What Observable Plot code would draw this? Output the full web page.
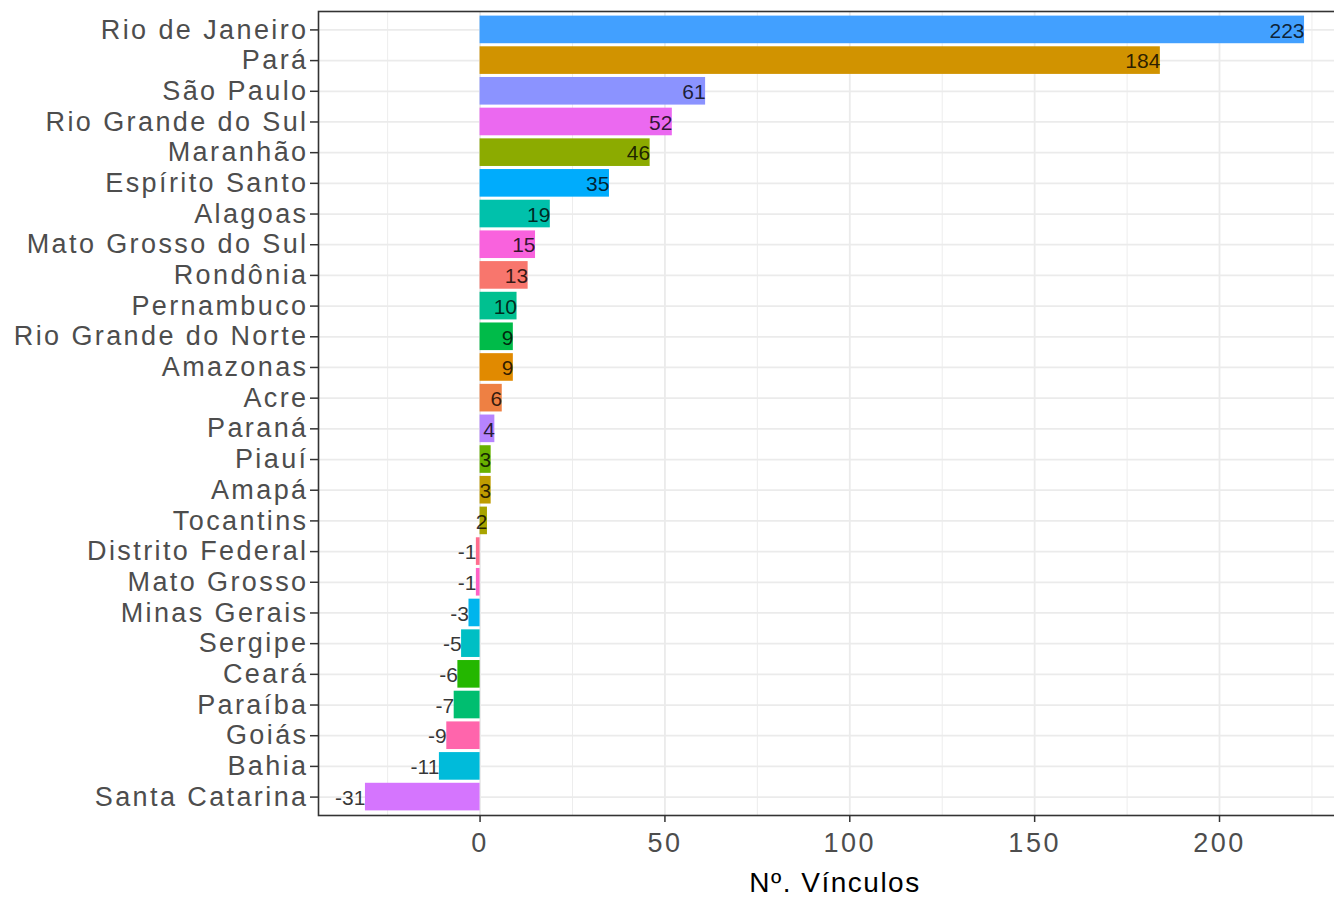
<!DOCTYPE html>
<html>
<head>
<meta charset="utf-8">
<script src="https://cdn.jsdelivr.net/npm/d3@7"></script>
<script src="https://cdn.jsdelivr.net/npm/@observablehq/plot@0.6"></script>
<style>
  html, body { margin: 0; padding: 0; background: #fff; overflow: hidden; }
  #chart { width: 1334px; height: 900px; overflow: hidden; }
  #chart svg { display: block; overflow: hidden; }
</style>
</head>
<body>
<div id="chart"></div>
<script>
// Categories (top to bottom, as drawn)
const states = ["Rio de Janeiro", "Pará", "São Paulo", "Rio Grande do Sul", "Maranhão", "Espírito Santo", "Alagoas", "Mato Grosso do Sul", "Rondônia", "Pernambuco", "Rio Grande do Norte", "Amazonas", "Acre", "Paraná", "Piauí", "Amapá", "Tocantins", "Distrito Federal", "Mato Grosso", "Minas Gerais", "Sergipe", "Ceará", "Paraíba", "Goiás", "Bahia", "Santa Catarina"];
// Series values
const values = [223, 184, 61, 52, 46, 35, 19, 15, 13, 10, 9, 9, 6, 4, 3, 3, 2, -1, -1, -3, -5, -6, -7, -9, -11, -31];
// Fill level order (IBGE order, used by the hue palette)
const fillOrder = ["Rondônia", "Acre", "Amazonas", "Pará", "Amapá", "Tocantins", "Maranhão", "Piauí", "Ceará", "Rio Grande do Norte", "Paraíba", "Pernambuco", "Alagoas", "Sergipe", "Bahia", "Minas Gerais", "Espírito Santo", "Rio de Janeiro", "São Paulo", "Paraná", "Santa Catarina", "Rio Grande do Sul", "Mato Grosso do Sul", "Mato Grosso", "Goiás", "Distrito Federal"];
// Tick labels
const xTicks = [0, 50, 100, 150, 200];
const xMinorTicks = [-25, 25, 75, 125, 175, 225];
const xLabel = "Nº. Vínculos";

// Polar LUV (R hcl) -> sRGB hex, like ggplot's hue palette
function hclLuv(h, c, l) {
  const Xn = 95.047, Yn = 100.0, Zn = 108.883;
  const un = 4 * Xn / (Xn + 15 * Yn + 3 * Zn), vn = 9 * Yn / (Xn + 15 * Yn + 3 * Zn);
  const hr = h * Math.PI / 180;
  const U = c * Math.cos(hr), V = c * Math.sin(hr);
  const Y = l > 8 ? Yn * Math.pow((l + 16) / 116, 3) : Yn * l / 903.3;
  const up = U / (13 * l) + un, vp = V / (13 * l) + vn;
  const X = 9 * Y * up / (4 * vp);
  const Z = -X / 3 - 5 * Y + 3 * Y / vp;
  const x = X / 100, y = Y / 100, z = Z / 100;
  const lin = [
    3.240479 * x - 1.537150 * y - 0.498535 * z,
    -0.969256 * x + 1.875992 * y + 0.041556 * z,
    0.055648 * x - 0.204043 * y + 1.057311 * z
  ];
  const g = lin.map(v => {
    const s = v <= 0.0031308 ? 12.92 * v : 1.055 * Math.pow(v, 1 / 2.4) - 0.055;
    return Math.round(Math.max(0, Math.min(1, s)) * 255);
  });
  return "#" + g.map(v => v.toString(16).padStart(2, "0")).join("");
}
const palette = fillOrder.map((s, i) => hclLuv(15 + 360 * i / fillOrder.length, 100, 65));
const data = states.map((s, i) => ({state: s, value: values[i]}));

const chart = Plot.plot({
  width: 1334,
  height: 900,
  marginLeft: 318,
  marginRight: -17,
  marginTop: 11,
  marginBottom: 85,
  style: {fontFamily: "'Liberation Sans', Arial, sans-serif", background: "#fff", overflow: "hidden"},
  x: {domain: [-43.7, 235.7], label: null},
  y: {type: "band", domain: states, paddingInner: 0.1, paddingOuter: 0.15, align: 0.5, round: false, label: null},
  color: {type: "ordinal", domain: fillOrder, range: palette},
  marks: [
    Plot.gridX(xMinorTicks, {stroke: "#ebebeb", strokeOpacity: 1, strokeWidth: 0.9}),
    Plot.gridX(xTicks, {stroke: "#ebebeb", strokeOpacity: 1, strokeWidth: 1.8}),
    Plot.gridY(states, {stroke: "#ebebeb", strokeOpacity: 1, strokeWidth: 1.8}),
    Plot.barX(data, {x: "value", y: "state", fill: "state"}),
    Plot.text(data, {x: "value", y: "state", text: d => String(d.value), textAnchor: "end", fill: "#000", fillOpacity: 0.8, fontSize: 21, dy: 1}),
    Plot.frame({stroke: "#333", strokeWidth: 1.6}),
    Plot.axisY({tickSize: 8, tickPadding: 2, fontSize: 27, fill: "#4d4d4d", stroke: "#333", strokeWidth: 1.5, label: null}),
    Plot.axisX(xTicks, {tickSize: 7, tickPadding: 10, fontSize: 27, fill: "#4d4d4d", stroke: "#333", strokeWidth: 1.5, label: null}),
    Plot.text([xLabel], {frameAnchor: "bottom", lineAnchor: "middle", dy: 68, fontSize: 28, fill: "#000"})
  ]
});

d3.select(chart).selectAll('[aria-label="y-axis tick label"] text').attr("letter-spacing", "2.4px");
d3.select(chart).selectAll('[aria-label="x-axis tick label"] text').attr("letter-spacing", "2.5px");
d3.select(chart).selectAll('[aria-label="text"]').filter((d, i, n) => n[i].textContent === xLabel).attr("letter-spacing", "1.5px");
document.getElementById("chart").appendChild(chart);
</script>
</body>
</html>
